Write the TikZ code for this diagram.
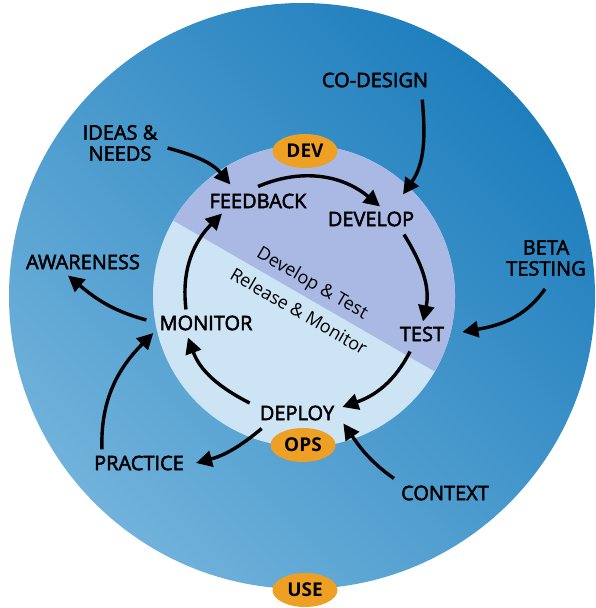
\documentclass[tikz,border=0pt]{standalone}
\usepackage{fontspec}
\setmainfont{Open Sans}
\newfontfamily\labfont[FakeBold=2.5]{Open Sans}
\usetikzlibrary{arrows.meta}
\usetikzlibrary{shapes.geometric}
\definecolor{outerdark}{RGB}{30,126,189}
\definecolor{outerlight}{RGB}{112,178,219}
\definecolor{devlav}{RGB}{169,185,227}
\definecolor{opsblue}{RGB}{204,228,244}
\definecolor{tagorange}{RGB}{238,160,36}
\begin{document}
\begin{tikzpicture}[x=1pt,y=1pt,
  lab/.style={font=\labfont\fontsize{20}{21}\selectfont,text=black,inner sep=3pt,align=center},
  tag/.style={ellipse,fill=tagorange,minimum width=65pt,minimum height=34pt,inner sep=0pt,font=\bfseries\fontsize{19}{20}\selectfont},
  phase/.style={font=\fontsize{18}{19}\selectfont,rotate=-30,inner sep=1pt},
  cyc/.style={line width=3.4pt,-{Triangle[length=16pt,width=16pt]}}]
\useasboundingbox (0,0) rectangle (595,608);
% rings
\shade[top color=outerdark,bottom color=outerlight,shading angle=-45] (302,312) circle[radius=293];
\fill[opsblue] (304,312) circle[radius=151];
\fill[devlav] (304,312) ++(-30:151) arc[start angle=-30,end angle=150,radius=151] -- cycle;
\node[phase] (devtest) at (312,324) {Develop \& Test};
\node[phase] (relmon) at (299,297) {Release \& Monitor};

\node[lab] (feedback) at (258,407) {FEEDBACK};
\node[lab] (develop) at (371,389) {DEVELOP};
\node[lab] (test) at (422,274) {TEST};
\node[lab] (deploy) at (297,195) {DEPLOY};
\node[lab] (monitor) at (206,285) {MONITOR};
\node[lab] (ideas) at (120,465) {IDEAS \&\\NEEDS};
\node[lab] (awareness) at (83,346) {AWARENESS};
\node[lab] (codesign) at (375,528) {CO-DESIGN};
\node[lab] (beta) at (546,350) {BETA\\TESTING};
\node[lab] (practice) at (139,145) {PRACTICE};
\node[lab] (context) at (445,115) {CONTEXT};
\node[tag] (dev) at (305,457) {DEV};
\node[tag] (ops) at (303,163) {OPS};
\node[tag] (use) at (305,18) {USE};

% inner cycle
\draw[cyc] ([yshift=4pt]feedback.north) to[out=23,in=140] ([xshift=9pt,yshift=2pt]develop.north);
\draw[cyc] ([xshift=33pt,yshift=-5pt]develop.south) to[out=-58,in=78] ([xshift=1pt,yshift=2pt]test.north);
\draw[cyc] ([xshift=-12pt,yshift=-7pt]test.south) to[out=-117,in=19] ([xshift=5pt,yshift=6pt]deploy.east);
\draw[cyc] ([xshift=-7pt,yshift=10pt]deploy.west) to[out=153,in=-70] ([xshift=-18pt,yshift=-4pt]monitor.south);
\draw[cyc] ([xshift=-20pt,yshift=3pt]monitor.north) to[out=97,in=-135] ([xshift=-36pt,yshift=-2pt]feedback.south);

% outer ring
\draw[cyc] ([xshift=7pt,yshift=-5pt]ideas.east) to[out=-15,in=130] ([xshift=24pt,yshift=6pt]feedback.north west);
\draw[cyc] ([xshift=-9pt,yshift=-9pt]codesign.south east) to[out=-85,in=55] ([xshift=32pt,yshift=14pt]develop.north);
\draw[cyc] ([xshift=-1pt,yshift=-10pt]beta.south) to[out=-125,in=10] ([xshift=15pt,yshift=2pt]test.east);
\draw[cyc] ([xshift=-4pt,yshift=4pt]context.north west) to[out=145,in=-55] ([xshift=6pt]deploy.south east);
\draw[cyc] ([xshift=5pt,yshift=-5pt]deploy.south west) to[out=-140,in=15] ([xshift=9pt]practice.east);
\draw[cyc] ([xshift=11pt,yshift=3pt]practice.north west) to[out=92,in=-135] ([xshift=-3pt,yshift=-10pt]monitor.west);
\draw[cyc] ([xshift=-10pt,yshift=3pt]monitor.west) to[out=165,in=-40] ([xshift=-15pt,yshift=-3pt]awareness.south);

\end{tikzpicture}
\end{document}
